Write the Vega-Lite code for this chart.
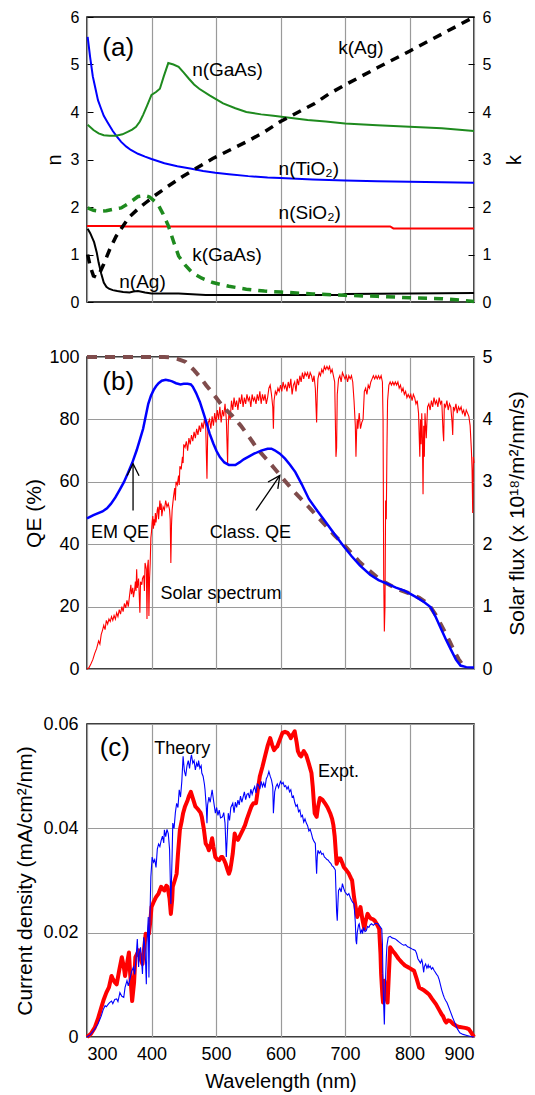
{
"$schema": "https://vega.github.io/schema/vega-lite/v6.json",
"padding": {"left": 14, "top": 8, "right": 6, "bottom": 5},
"background": "white",
"bounds": "flush",
"spacing": 55,
"config": {
  "font": "Liberation Sans",
  "view": {"stroke": "black", "strokeWidth": 1.5},
  "axis": {"labelFont": "Liberation Sans", "titleFont": "Liberation Sans", "labelColor": "black", "titleColor": "black", "titleFontWeight": "normal", "domain": false, "ticks": false, "gridColor": "#9a9a9a", "gridWidth": 1.2, "gridOpacity": 1},
  "text": {"font": "Liberation Sans", "align": "left", "baseline": "alphabetic", "color": "black"}
},
"datasets": {
  "nTiO2": [{"wl":301,"v":5.58},{"wl":305,"v":5.14},{"wl":309,"v":4.75},{"wl":313,"v":4.5},{"wl":317,"v":4.25},{"wl":321,"v":4.1},{"wl":326,"v":3.92},{"wl":332,"v":3.78},{"wl":340,"v":3.6},{"wl":347,"v":3.47},{"wl":353,"v":3.37},{"wl":361,"v":3.27},{"wl":368,"v":3.2},{"wl":379,"v":3.12},{"wl":390,"v":3.06},{"wl":400,"v":3.01},{"wl":420,"v":2.92},{"wl":440,"v":2.86},{"wl":460,"v":2.81},{"wl":480,"v":2.76},{"wl":499,"v":2.72},{"wl":520,"v":2.69},{"wl":550,"v":2.65},{"wl":580,"v":2.62},{"wl":600,"v":2.61},{"wl":650,"v":2.58},{"wl":700,"v":2.56},{"wl":750,"v":2.54},{"wl":800,"v":2.53},{"wl":850,"v":2.52},{"wl":900,"v":2.51}],
  "nGaAs": [{"wl":301,"v":3.73},{"wl":310,"v":3.62},{"wl":318,"v":3.55},{"wl":326,"v":3.51},{"wl":335,"v":3.5},{"wl":345,"v":3.5},{"wl":355,"v":3.53},{"wl":363,"v":3.58},{"wl":370,"v":3.63},{"wl":376,"v":3.69},{"wl":382,"v":3.8},{"wl":387,"v":3.94},{"wl":393,"v":4.13},{"wl":400,"v":4.36},{"wl":407,"v":4.42},{"wl":413,"v":4.49},{"wl":419,"v":4.75},{"wl":426,"v":5.03},{"wl":434,"v":5.0},{"wl":442,"v":4.95},{"wl":450,"v":4.83},{"wl":458,"v":4.7},{"wl":466,"v":4.58},{"wl":474,"v":4.49},{"wl":490,"v":4.35},{"wl":511,"v":4.18},{"wl":530,"v":4.08},{"wl":547,"v":4.0},{"wl":570,"v":3.95},{"wl":589,"v":3.92},{"wl":620,"v":3.87},{"wl":642,"v":3.83},{"wl":670,"v":3.8},{"wl":700,"v":3.76},{"wl":750,"v":3.72},{"wl":800,"v":3.69},{"wl":850,"v":3.66},{"wl":900,"v":3.6}],
  "nSiO2": [{"wl":300,"v":1.6},{"wl":355,"v":1.6},{"wl":356,"v":1.59},{"wl":770,"v":1.59},{"wl":775,"v":1.55},{"wl":900,"v":1.55}],
  "nAg": [{"wl":301,"v":1.54},{"wl":305,"v":1.45},{"wl":311,"v":1.26},{"wl":315,"v":1.05},{"wl":318,"v":0.83},{"wl":322,"v":0.6},{"wl":326,"v":0.41},{"wl":330,"v":0.32},{"wl":334,"v":0.28},{"wl":340,"v":0.25},{"wl":347,"v":0.23},{"wl":356,"v":0.21},{"wl":366,"v":0.2},{"wl":372,"v":0.22},{"wl":379,"v":0.23},{"wl":390,"v":0.2},{"wl":400,"v":0.18},{"wl":442,"v":0.18},{"wl":484,"v":0.15},{"wl":600,"v":0.15},{"wl":695,"v":0.15},{"wl":700,"v":0.17},{"wl":800,"v":0.18},{"wl":900,"v":0.19}],
  "kAg": [{"wl":301,"v":1.0},{"wl":305,"v":0.75},{"wl":310,"v":0.55},{"wl":315,"v":0.52},{"wl":320,"v":0.62},{"wl":326,"v":0.8},{"wl":335,"v":1.1},{"wl":345,"v":1.38},{"wl":353,"v":1.54},{"wl":365,"v":1.78},{"wl":379,"v":1.96},{"wl":392,"v":2.1},{"wl":405,"v":2.24},{"wl":425,"v":2.43},{"wl":447,"v":2.63},{"wl":470,"v":2.82},{"wl":495,"v":3.02},{"wl":520,"v":3.19},{"wl":547,"v":3.37},{"wl":575,"v":3.58},{"wl":600,"v":3.8},{"wl":625,"v":3.98},{"wl":653,"v":4.18},{"wl":675,"v":4.38},{"wl":700,"v":4.57},{"wl":750,"v":4.93},{"wl":800,"v":5.28},{"wl":850,"v":5.64},{"wl":900,"v":6.0}],
  "kGaAs": [{"wl":301,"v":1.98},{"wl":310,"v":1.93},{"wl":320,"v":1.91},{"wl":330,"v":1.92},{"wl":340,"v":1.95},{"wl":353,"v":1.98},{"wl":365,"v":2.08},{"wl":379,"v":2.22},{"wl":390,"v":2.24},{"wl":397,"v":2.21},{"wl":405,"v":2.12},{"wl":411,"v":2.03},{"wl":418,"v":1.85},{"wl":426,"v":1.61},{"wl":434,"v":1.28},{"wl":442,"v":0.97},{"wl":452,"v":0.78},{"wl":463,"v":0.62},{"wl":478,"v":0.5},{"wl":495,"v":0.41},{"wl":520,"v":0.33},{"wl":547,"v":0.27},{"wl":575,"v":0.23},{"wl":600,"v":0.21},{"wl":650,"v":0.17},{"wl":700,"v":0.14},{"wl":750,"v":0.12},{"wl":800,"v":0.09},{"wl":850,"v":0.07},{"wl":880,"v":0.04},{"wl":900,"v":0.01}],
  "emqe": [{"wl":300,"v":48.3},{"wl":310,"v":49.3},{"wl":324,"v":50.5},{"wl":331,"v":51.5},{"wl":337,"v":52.9},{"wl":344,"v":55.0},{"wl":350,"v":57.2},{"wl":357,"v":59.8},{"wl":363,"v":62.6},{"wl":370,"v":66.0},{"wl":377,"v":70.1},{"wl":382,"v":73.5},{"wl":387,"v":77.0},{"wl":391,"v":81.0},{"wl":395,"v":85.0},{"wl":399,"v":87.5},{"wl":403,"v":89.3},{"wl":407,"v":90.6},{"wl":411,"v":91.6},{"wl":416,"v":92.4},{"wl":422,"v":92.7},{"wl":427,"v":92.5},{"wl":432,"v":92.2},{"wl":438,"v":91.6},{"wl":445,"v":91.2},{"wl":450,"v":91.4},{"wl":456,"v":91.4},{"wl":461,"v":91.2},{"wl":464,"v":90.5},{"wl":469,"v":88.5},{"wl":475,"v":85.6},{"wl":480,"v":82.4},{"wl":485,"v":79.1},{"wl":490,"v":75.5},{"wl":496,"v":72.2},{"wl":501,"v":69.8},{"wl":506,"v":67.9},{"wl":513,"v":66.2},{"wl":520,"v":65.4},{"wl":530,"v":65.4},{"wl":537,"v":66.3},{"wl":543,"v":67.2},{"wl":550,"v":68.0},{"wl":559,"v":69.0},{"wl":570,"v":70.0},{"wl":580,"v":70.6},{"wl":586,"v":70.6},{"wl":591,"v":70.1},{"wl":599,"v":69.0},{"wl":607,"v":67.4},{"wl":615,"v":65.4},{"wl":623,"v":63.1},{"wl":633,"v":59.2},{"wl":644,"v":54.5},{"wl":657,"v":50.7},{"wl":670,"v":47.1},{"wl":683,"v":43.4},{"wl":697,"v":39.6},{"wl":710,"v":36.2},{"wl":723,"v":33.2},{"wl":739,"v":30.2},{"wl":752,"v":28.5},{"wl":766,"v":27.3},{"wl":779,"v":26.1},{"wl":792,"v":25.1},{"wl":802,"v":24.0},{"wl":813,"v":22.7},{"wl":823,"v":21.4},{"wl":833,"v":19.8},{"wl":841,"v":16.5},{"wl":849,"v":12.8},{"wl":857,"v":9.2},{"wl":865,"v":5.9},{"wl":872,"v":3.0},{"wl":879,"v":1.1},{"wl":888,"v":0.6},{"wl":900,"v":0.5}],
  "classqe": [{"wl":300,"v":100},{"wl":420,"v":100},{"wl":430,"v":99.9},{"wl":440,"v":99.4},{"wl":453,"v":98.4},{"wl":465,"v":96.0},{"wl":475,"v":93.6},{"wl":485,"v":90.9},{"wl":498,"v":87.6},{"wl":511,"v":84.0},{"wl":525,"v":81.2},{"wl":538,"v":78.1},{"wl":551,"v":74.5},{"wl":564,"v":70.6},{"wl":578,"v":67.3},{"wl":591,"v":64.2},{"wl":604,"v":61.0},{"wl":617,"v":57.8},{"wl":630,"v":54.9},{"wl":644,"v":51.9},{"wl":657,"v":48.9},{"wl":670,"v":46.0},{"wl":683,"v":43.0},{"wl":697,"v":40.1},{"wl":710,"v":37.1},{"wl":723,"v":34.2},{"wl":737,"v":31.7},{"wl":750,"v":29.4},{"wl":763,"v":27.6},{"wl":776,"v":26.2},{"wl":789,"v":25.0},{"wl":802,"v":24.1},{"wl":815,"v":22.8},{"wl":829,"v":20.9},{"wl":840,"v":17.5},{"wl":848,"v":14.5},{"wl":855,"v":11.8},{"wl":862,"v":8.9},{"wl":870,"v":5.5},{"wl":876,"v":3.2},{"wl":882,"v":1.4},{"wl":887,"v":0.5}],
  "solar": [{"wl":300,"v":0},{"wl":303,"v":0.02},{"wl":306,"v":0.08},{"wl":309,"v":0.15},{"wl":312,"v":0.25},{"wl":315,"v":0.33},{"wl":318,"v":0.45},{"wl":320,"v":0.4},{"wl":322,"v":0.55},{"wl":324,"v":0.62},{"wl":326,"v":0.7},{"wl":328,"v":0.63},{"wl":330,"v":0.78},{"wl":332,"v":0.72},{"wl":334,"v":0.8},{"wl":336,"v":0.76},{"wl":338,"v":0.84},{"wl":340,"v":0.78},{"wl":342,"v":0.86},{"wl":344,"v":0.8},{"wl":346,"v":0.9},{"wl":348,"v":0.84},{"wl":350,"v":0.95},{"wl":352,"v":0.88},{"wl":354,"v":1.0},{"wl":356,"v":0.92},{"wl":358,"v":1.05},{"wl":360,"v":0.98},{"wl":362,"v":1.1},{"wl":364,"v":1.0},{"wl":366,"v":1.18},{"wl":368,"v":1.35},{"wl":369,"v":1.2},{"wl":371,"v":1.3},{"wl":372,"v":1.15},{"wl":374,"v":1.28},{"wl":375,"v":1.4},{"wl":376,"v":1.25},{"wl":377,"v":1.6},{"wl":378,"v":1.3},{"wl":380,"v":1.45},{"wl":382,"v":0.9},{"wl":383,"v":1.4},{"wl":385,"v":1.35},{"wl":386,"v":1.45},{"wl":388,"v":1.5},{"wl":389,"v":1.25},{"wl":390,"v":1.7},{"wl":392,"v":1.6},{"wl":393,"v":0.8},{"wl":394,"v":1.65},{"wl":395,"v":1.75},{"wl":396,"v":0.85},{"wl":397,"v":1.45},{"wl":398,"v":1.7},{"wl":399,"v":2.1},{"wl":400,"v":2.2},{"wl":401,"v":2.35},{"wl":402,"v":2.45},{"wl":403,"v":2.25},{"wl":404,"v":2.4},{"wl":405,"v":2.3},{"wl":406,"v":2.5},{"wl":407,"v":2.35},{"wl":408,"v":2.45},{"wl":409,"v":2.55},{"wl":410,"v":2.6},{"wl":411,"v":2.4},{"wl":412,"v":2.55},{"wl":413,"v":2.7},{"wl":414,"v":2.55},{"wl":415,"v":2.65},{"wl":416,"v":2.45},{"wl":418,"v":2.6},{"wl":420,"v":2.55},{"wl":422,"v":2.7},{"wl":424,"v":2.6},{"wl":426,"v":2.65},{"wl":428,"v":2.55},{"wl":429,"v":2.4},{"wl":430,"v":1.7},{"wl":431,"v":2.3},{"wl":432,"v":2.55},{"wl":434,"v":2.75},{"wl":436,"v":2.9},{"wl":437,"v":2.7},{"wl":438,"v":3.0},{"wl":440,"v":2.95},{"wl":442,"v":3.1},{"wl":443,"v":2.95},{"wl":444,"v":3.25},{"wl":446,"v":3.2},{"wl":448,"v":3.4},{"wl":449,"v":3.3},{"wl":450,"v":3.6},{"wl":452,"v":3.55},{"wl":454,"v":3.65},{"wl":456,"v":3.5},{"wl":458,"v":3.7},{"wl":460,"v":3.6},{"wl":462,"v":3.75},{"wl":464,"v":3.65},{"wl":466,"v":3.8},{"wl":468,"v":3.7},{"wl":470,"v":3.85},{"wl":472,"v":3.75},{"wl":474,"v":3.9},{"wl":476,"v":3.8},{"wl":478,"v":3.95},{"wl":480,"v":3.85},{"wl":482,"v":4.0},{"wl":484,"v":3.9},{"wl":486,"v":3.05},{"wl":487,"v":3.7},{"wl":488,"v":3.95},{"wl":490,"v":4.0},{"wl":492,"v":3.85},{"wl":494,"v":4.05},{"wl":496,"v":3.9},{"wl":498,"v":4.1},{"wl":500,"v":3.95},{"wl":502,"v":4.15},{"wl":504,"v":4.0},{"wl":506,"v":4.2},{"wl":508,"v":3.95},{"wl":510,"v":4.15},{"wl":512,"v":4.05},{"wl":514,"v":4.25},{"wl":516,"v":4.0},{"wl":518,"v":3.3},{"wl":519,"v":3.9},{"wl":520,"v":4.1},{"wl":522,"v":4.0},{"wl":524,"v":4.3},{"wl":526,"v":4.15},{"wl":528,"v":4.35},{"wl":530,"v":4.2},{"wl":532,"v":4.3},{"wl":534,"v":4.15},{"wl":536,"v":4.35},{"wl":538,"v":4.25},{"wl":540,"v":4.4},{"wl":542,"v":4.2},{"wl":544,"v":4.35},{"wl":546,"v":4.25},{"wl":548,"v":4.4},{"wl":550,"v":4.3},{"wl":552,"v":4.35},{"wl":554,"v":4.2},{"wl":556,"v":4.4},{"wl":558,"v":4.3},{"wl":560,"v":4.35},{"wl":562,"v":4.25},{"wl":564,"v":4.4},{"wl":566,"v":4.3},{"wl":568,"v":4.45},{"wl":570,"v":4.25},{"wl":572,"v":4.4},{"wl":574,"v":4.3},{"wl":576,"v":4.4},{"wl":578,"v":4.25},{"wl":580,"v":4.35},{"wl":582,"v":4.5},{"wl":584,"v":4.55},{"wl":586,"v":4.4},{"wl":588,"v":4.2},{"wl":589,"v":3.85},{"wl":590,"v":4.3},{"wl":592,"v":4.45},{"wl":594,"v":4.4},{"wl":596,"v":4.5},{"wl":598,"v":4.45},{"wl":600,"v":4.55},{"wl":602,"v":4.45},{"wl":604,"v":4.6},{"wl":606,"v":4.5},{"wl":608,"v":4.55},{"wl":610,"v":4.45},{"wl":612,"v":4.6},{"wl":614,"v":4.5},{"wl":616,"v":4.65},{"wl":618,"v":4.4},{"wl":620,"v":4.55},{"wl":622,"v":4.6},{"wl":624,"v":4.45},{"wl":626,"v":4.65},{"wl":628,"v":4.55},{"wl":630,"v":4.7},{"wl":632,"v":4.6},{"wl":634,"v":4.75},{"wl":636,"v":4.65},{"wl":638,"v":4.75},{"wl":640,"v":4.7},{"wl":642,"v":4.75},{"wl":644,"v":4.65},{"wl":646,"v":4.75},{"wl":648,"v":4.7},{"wl":650,"v":4.6},{"wl":652,"v":4.7},{"wl":654,"v":4.5},{"wl":656,"v":3.95},{"wl":657,"v":4.4},{"wl":658,"v":4.65},{"wl":660,"v":4.75},{"wl":662,"v":4.7},{"wl":664,"v":4.8},{"wl":666,"v":4.75},{"wl":668,"v":4.85},{"wl":670,"v":4.8},{"wl":672,"v":4.85},{"wl":674,"v":4.8},{"wl":676,"v":4.85},{"wl":678,"v":4.75},{"wl":680,"v":4.8},{"wl":682,"v":4.7},{"wl":684,"v":4.6},{"wl":686,"v":3.4},{"wl":687,"v":3.55},{"wl":688,"v":4.4},{"wl":690,"v":4.65},{"wl":692,"v":4.7},{"wl":694,"v":4.6},{"wl":696,"v":4.75},{"wl":698,"v":4.7},{"wl":700,"v":4.65},{"wl":702,"v":4.7},{"wl":704,"v":4.6},{"wl":706,"v":4.7},{"wl":708,"v":4.65},{"wl":710,"v":4.7},{"wl":712,"v":4.6},{"wl":714,"v":4.3},{"wl":716,"v":3.9},{"wl":717,"v":3.4},{"wl":718,"v":3.8},{"wl":719,"v":4.0},{"wl":720,"v":3.85},{"wl":722,"v":4.1},{"wl":724,"v":3.85},{"wl":726,"v":3.95},{"wl":728,"v":4.0},{"wl":730,"v":4.45},{"wl":732,"v":4.5},{"wl":734,"v":4.4},{"wl":736,"v":4.55},{"wl":738,"v":4.5},{"wl":740,"v":4.6},{"wl":742,"v":4.65},{"wl":744,"v":4.7},{"wl":746,"v":4.65},{"wl":748,"v":4.7},{"wl":750,"v":4.65},{"wl":752,"v":4.7},{"wl":754,"v":4.65},{"wl":756,"v":4.7},{"wl":758,"v":4.6},{"wl":759,"v":4.0},{"wl":760,"v":1.5},{"wl":761,"v":0.6},{"wl":762,"v":1.0},{"wl":763,"v":2.7},{"wl":764,"v":2.4},{"wl":765,"v":3.5},{"wl":766,"v":4.3},{"wl":768,"v":4.55},{"wl":770,"v":4.6},{"wl":772,"v":4.55},{"wl":774,"v":4.6},{"wl":776,"v":4.55},{"wl":778,"v":4.6},{"wl":780,"v":4.55},{"wl":782,"v":4.6},{"wl":784,"v":4.5},{"wl":786,"v":4.55},{"wl":788,"v":4.45},{"wl":790,"v":4.5},{"wl":792,"v":4.4},{"wl":794,"v":4.45},{"wl":796,"v":4.35},{"wl":798,"v":4.4},{"wl":800,"v":4.35},{"wl":802,"v":4.4},{"wl":804,"v":4.3},{"wl":806,"v":4.4},{"wl":808,"v":4.35},{"wl":810,"v":4.25},{"wl":812,"v":4.3},{"wl":814,"v":4.1},{"wl":816,"v":3.4},{"wl":817,"v":4.0},{"wl":818,"v":3.6},{"wl":819,"v":4.1},{"wl":820,"v":3.7},{"wl":821,"v":2.8},{"wl":822,"v":3.9},{"wl":823,"v":3.4},{"wl":824,"v":4.1},{"wl":826,"v":3.7},{"wl":828,"v":4.2},{"wl":830,"v":4.25},{"wl":832,"v":4.15},{"wl":834,"v":4.3},{"wl":836,"v":4.2},{"wl":838,"v":4.35},{"wl":840,"v":4.25},{"wl":842,"v":4.3},{"wl":844,"v":4.2},{"wl":846,"v":4.35},{"wl":848,"v":4.25},{"wl":850,"v":4.3},{"wl":852,"v":3.8},{"wl":853,"v":3.65},{"wl":854,"v":4.25},{"wl":856,"v":4.2},{"wl":858,"v":4.3},{"wl":860,"v":4.15},{"wl":862,"v":4.25},{"wl":864,"v":4.2},{"wl":866,"v":3.95},{"wl":867,"v":3.75},{"wl":868,"v":4.2},{"wl":870,"v":4.15},{"wl":872,"v":4.25},{"wl":874,"v":4.1},{"wl":876,"v":4.2},{"wl":878,"v":4.15},{"wl":880,"v":4.2},{"wl":882,"v":4.1},{"wl":884,"v":4.15},{"wl":886,"v":4.05},{"wl":888,"v":4.15},{"wl":890,"v":4.1},{"wl":892,"v":4.05},{"wl":894,"v":3.9},{"wl":896,"v":3.5},{"wl":897,"v":3.2},{"wl":898,"v":2.5},{"wl":899,"v":3.4},{"wl":900,"v":3.3}],
  "theory": [{"wl":300,"v":0},{"wl":305,"v":0.0004},{"wl":312,"v":0.0015},{"wl":317,"v":0.0025},{"wl":322,"v":0.004},{"wl":325,"v":0.0052},{"wl":328,"v":0.006},{"wl":330,"v":0.0058},{"wl":333,"v":0.0063},{"wl":335,"v":0.0066},{"wl":338,"v":0.0069},{"wl":340,"v":0.0064},{"wl":343,"v":0.0072},{"wl":346,"v":0.0073},{"wl":348,"v":0.0068},{"wl":351,"v":0.0085},{"wl":354,"v":0.0078},{"wl":357,"v":0.0076},{"wl":359,"v":0.0095},{"wl":362,"v":0.0108},{"wl":364,"v":0.0098},{"wl":367,"v":0.0114},{"wl":369,"v":0.0125},{"wl":372,"v":0.0134},{"wl":374,"v":0.012},{"wl":376,"v":0.015},{"wl":378,"v":0.0188},{"wl":380,"v":0.0134},{"wl":381,"v":0.016},{"wl":383,"v":0.0172},{"wl":385,"v":0.014},{"wl":386,"v":0.0121},{"wl":388,"v":0.0191},{"wl":390,"v":0.017},{"wl":392,"v":0.0101},{"wl":393,"v":0.018},{"wl":395,"v":0.023},{"wl":396,"v":0.0114},{"wl":397,"v":0.02},{"wl":399,"v":0.0307},{"wl":401,"v":0.0345},{"wl":403,"v":0.0335},{"wl":405,"v":0.034},{"wl":407,"v":0.0325},{"wl":409,"v":0.036},{"wl":411,"v":0.037},{"wl":413,"v":0.0365},{"wl":415,"v":0.0377},{"wl":417,"v":0.0385},{"wl":419,"v":0.0372},{"wl":420,"v":0.0397},{"wl":422,"v":0.0384},{"wl":424,"v":0.0398},{"wl":426,"v":0.039},{"wl":428,"v":0.036},{"wl":430,"v":0.0255},{"wl":432,"v":0.035},{"wl":433,"v":0.041},{"wl":435,"v":0.04},{"wl":437,"v":0.043},{"wl":439,"v":0.0448},{"wl":441,"v":0.044},{"wl":443,"v":0.0474},{"wl":445,"v":0.046},{"wl":447,"v":0.049},{"wl":449,"v":0.0538},{"wl":451,"v":0.051},{"wl":453,"v":0.05},{"wl":455,"v":0.052},{"wl":457,"v":0.053},{"wl":459,"v":0.0515},{"wl":461,"v":0.0535},{"wl":462,"v":0.0541},{"wl":464,"v":0.0525},{"wl":466,"v":0.053},{"wl":468,"v":0.0512},{"wl":470,"v":0.0525},{"wl":472,"v":0.0518},{"wl":473,"v":0.053},{"wl":475,"v":0.0515},{"wl":477,"v":0.052},{"wl":478,"v":0.0506},{"wl":480,"v":0.05},{"wl":482,"v":0.0485},{"wl":483,"v":0.0474},{"wl":485,"v":0.044},{"wl":486,"v":0.041},{"wl":487,"v":0.0445},{"wl":489,"v":0.046},{"wl":491,"v":0.045},{"wl":494,"v":0.0474},{"wl":496,"v":0.0455},{"wl":499,"v":0.0429},{"wl":501,"v":0.044},{"wl":503,"v":0.0425},{"wl":505,"v":0.0435},{"wl":507,"v":0.042},{"wl":510,"v":0.0422},{"wl":512,"v":0.043},{"wl":514,"v":0.041},{"wl":516,"v":0.0345},{"wl":518,"v":0.04},{"wl":519,"v":0.0429},{"wl":521,"v":0.0415},{"wl":523,"v":0.044},{"wl":526,"v":0.0448},{"wl":528,"v":0.043},{"wl":530,"v":0.045},{"wl":532,"v":0.044},{"wl":534,"v":0.0454},{"wl":536,"v":0.0445},{"wl":538,"v":0.0462},{"wl":540,"v":0.045},{"wl":542,"v":0.046},{"wl":544,"v":0.047},{"wl":546,"v":0.0455},{"wl":548,"v":0.0465},{"wl":550,"v":0.0467},{"wl":552,"v":0.0458},{"wl":554,"v":0.0475},{"wl":556,"v":0.0465},{"wl":558,"v":0.0474},{"wl":560,"v":0.048},{"wl":562,"v":0.0468},{"wl":564,"v":0.0485},{"wl":566,"v":0.0483},{"wl":568,"v":0.0475},{"wl":570,"v":0.049},{"wl":572,"v":0.048},{"wl":574,"v":0.0487},{"wl":576,"v":0.0478},{"wl":578,"v":0.0495},{"wl":580,"v":0.05},{"wl":582,"v":0.0509},{"wl":584,"v":0.05},{"wl":586,"v":0.0493},{"wl":588,"v":0.048},{"wl":589,"v":0.0429},{"wl":591,"v":0.047},{"wl":593,"v":0.048},{"wl":595,"v":0.0485},{"wl":597,"v":0.0478},{"wl":600,"v":0.049},{"wl":602,"v":0.0485},{"wl":604,"v":0.0488},{"wl":606,"v":0.048},{"wl":608,"v":0.0482},{"wl":610,"v":0.0475},{"wl":612,"v":0.048},{"wl":614,"v":0.047},{"wl":616,"v":0.0474},{"wl":618,"v":0.046},{"wl":620,"v":0.0462},{"wl":622,"v":0.045},{"wl":624,"v":0.0442},{"wl":626,"v":0.0445},{"wl":628,"v":0.0432},{"wl":630,"v":0.0435},{"wl":632,"v":0.0422},{"wl":634,"v":0.0425},{"wl":636,"v":0.0412},{"wl":638,"v":0.0418},{"wl":640,"v":0.041},{"wl":642,"v":0.0405},{"wl":644,"v":0.0395},{"wl":646,"v":0.0398},{"wl":648,"v":0.039},{"wl":650,"v":0.038},{"wl":652,"v":0.0375},{"wl":654,"v":0.0371},{"wl":655,"v":0.034},{"wl":656,"v":0.0313},{"wl":657,"v":0.0345},{"wl":658,"v":0.0358},{"wl":660,"v":0.0352},{"wl":662,"v":0.0356},{"wl":664,"v":0.035},{"wl":666,"v":0.0352},{"wl":668,"v":0.0345},{"wl":670,"v":0.0343},{"wl":672,"v":0.034},{"wl":674,"v":0.0339},{"wl":676,"v":0.0335},{"wl":678,"v":0.0333},{"wl":680,"v":0.0328},{"wl":682,"v":0.0326},{"wl":684,"v":0.0322},{"wl":685,"v":0.032},{"wl":686,"v":0.028},{"wl":687,"v":0.024},{"wl":688,"v":0.0223},{"wl":689,"v":0.0255},{"wl":690,"v":0.0281},{"wl":692,"v":0.0285},{"wl":694,"v":0.0278},{"wl":696,"v":0.0294},{"wl":698,"v":0.0285},{"wl":700,"v":0.0278},{"wl":702,"v":0.0275},{"wl":704,"v":0.0272},{"wl":706,"v":0.0275},{"wl":708,"v":0.0268},{"wl":710,"v":0.0262},{"wl":712,"v":0.0258},{"wl":714,"v":0.0255},{"wl":716,"v":0.022},{"wl":717,"v":0.0185},{"wl":718,"v":0.0178},{"wl":719,"v":0.02},{"wl":721,"v":0.0215},{"wl":722,"v":0.0217},{"wl":724,"v":0.02},{"wl":726,"v":0.0205},{"wl":727,"v":0.0198},{"wl":729,"v":0.021},{"wl":731,"v":0.0202},{"wl":733,"v":0.0204},{"wl":735,"v":0.0212},{"wl":737,"v":0.021},{"wl":739,"v":0.0215},{"wl":741,"v":0.0217},{"wl":744,"v":0.0214},{"wl":747,"v":0.0218},{"wl":751,"v":0.0217},{"wl":754,"v":0.0212},{"wl":757,"v":0.0207},{"wl":758,"v":0.018},{"wl":759,"v":0.0101},{"wl":760,"v":0.006},{"wl":761,"v":0.0024},{"wl":762,"v":0.008},{"wl":763,"v":0.0114},{"wl":764,"v":0.015},{"wl":765,"v":0.0175},{"wl":767,"v":0.0191},{"wl":770,"v":0.0193},{"wl":773,"v":0.019},{"wl":776,"v":0.0189},{"wl":778,"v":0.0188},{"wl":781,"v":0.0185},{"wl":784,"v":0.0182},{"wl":786,"v":0.018},{"wl":788,"v":0.0178},{"wl":791,"v":0.0176},{"wl":794,"v":0.0177},{"wl":797,"v":0.0173},{"wl":799,"v":0.0172},{"wl":802,"v":0.017},{"wl":805,"v":0.0168},{"wl":807,"v":0.0167},{"wl":809,"v":0.0166},{"wl":811,"v":0.016},{"wl":813,"v":0.015},{"wl":815,"v":0.0146},{"wl":817,"v":0.0142},{"wl":819,"v":0.0148},{"wl":820,"v":0.0143},{"wl":822,"v":0.0124},{"wl":823,"v":0.0135},{"wl":825,"v":0.014},{"wl":827,"v":0.0132},{"wl":829,"v":0.0138},{"wl":830,"v":0.0133},{"wl":832,"v":0.0136},{"wl":834,"v":0.013},{"wl":836,"v":0.0133},{"wl":838,"v":0.0128},{"wl":840,"v":0.0124},{"wl":842,"v":0.012},{"wl":844,"v":0.0117},{"wl":846,"v":0.011},{"wl":848,"v":0.01},{"wl":850,"v":0.009},{"wl":852,"v":0.0082},{"wl":854,"v":0.0075},{"wl":856,"v":0.007},{"wl":858,"v":0.0066},{"wl":860,"v":0.006},{"wl":863,"v":0.005},{"wl":867,"v":0.0037},{"wl":870,"v":0.0028},{"wl":874,"v":0.0016},{"wl":878,"v":0.0008},{"wl":883,"v":0.0005},{"wl":889,"v":0.0003},{"wl":895,"v":0.0001},{"wl":900,"v":0}],
  "expt": [{"wl":300,"v":0},{"wl":306,"v":0.0006},{"wl":312,"v":0.0018},{"wl":317,"v":0.0035},{"wl":322,"v":0.0056},{"wl":326,"v":0.0072},{"wl":330,"v":0.0085},{"wl":334,"v":0.0095},{"wl":338,"v":0.0117},{"wl":340,"v":0.0112},{"wl":343,"v":0.0105},{"wl":346,"v":0.0101},{"wl":350,"v":0.0128},{"wl":354,"v":0.0153},{"wl":357,"v":0.0135},{"wl":359,"v":0.0117},{"wl":362,"v":0.014},{"wl":365,"v":0.0162},{"wl":367,"v":0.012},{"wl":370,"v":0.0069},{"wl":373,"v":0.0105},{"wl":375,"v":0.0153},{"wl":378,"v":0.016},{"wl":380,"v":0.0166},{"wl":383,"v":0.015},{"wl":386,"v":0.014},{"wl":389,"v":0.0175},{"wl":391,"v":0.0198},{"wl":393,"v":0.0195},{"wl":396,"v":0.0198},{"wl":398,"v":0.022},{"wl":400,"v":0.0249},{"wl":403,"v":0.0258},{"wl":407,"v":0.0268},{"wl":411,"v":0.0275},{"wl":415,"v":0.0288},{"wl":418,"v":0.0283},{"wl":420,"v":0.0281},{"wl":423,"v":0.029},{"wl":425,"v":0.0288},{"wl":428,"v":0.0265},{"wl":430,"v":0.0236},{"wl":432,"v":0.0262},{"wl":433,"v":0.0288},{"wl":436,"v":0.03},{"wl":439,"v":0.0313},{"wl":441,"v":0.035},{"wl":444,"v":0.0397},{"wl":447,"v":0.0415},{"wl":449,"v":0.0429},{"wl":452,"v":0.0442},{"wl":456,"v":0.0454},{"wl":458,"v":0.0462},{"wl":461,"v":0.047},{"wl":464,"v":0.0458},{"wl":468,"v":0.0442},{"wl":471,"v":0.0438},{"wl":473,"v":0.0435},{"wl":476,"v":0.043},{"wl":478,"v":0.0422},{"wl":481,"v":0.04},{"wl":484,"v":0.0371},{"wl":487,"v":0.0365},{"wl":489,"v":0.0358},{"wl":492,"v":0.037},{"wl":494,"v":0.0381},{"wl":496,"v":0.0365},{"wl":499,"v":0.0345},{"wl":502,"v":0.034},{"wl":505,"v":0.0339},{"wl":508,"v":0.0345},{"wl":510,"v":0.0345},{"wl":513,"v":0.0338},{"wl":515,"v":0.0332},{"wl":518,"v":0.032},{"wl":520,"v":0.0313},{"wl":522,"v":0.032},{"wl":524,"v":0.0335},{"wl":526,"v":0.0352},{"wl":529,"v":0.039},{"wl":531,"v":0.0382},{"wl":534,"v":0.0378},{"wl":538,"v":0.0388},{"wl":542,"v":0.0398},{"wl":545,"v":0.0406},{"wl":548,"v":0.0418},{"wl":552,"v":0.0432},{"wl":555,"v":0.0442},{"wl":558,"v":0.0448},{"wl":562,"v":0.0448},{"wl":565,"v":0.0475},{"wl":568,"v":0.05},{"wl":572,"v":0.0518},{"wl":576,"v":0.0538},{"wl":580,"v":0.0558},{"wl":584,"v":0.0573},{"wl":587,"v":0.056},{"wl":590,"v":0.055},{"wl":593,"v":0.0555},{"wl":595,"v":0.0557},{"wl":599,"v":0.057},{"wl":603,"v":0.0583},{"wl":607,"v":0.0585},{"wl":611,"v":0.0583},{"wl":614,"v":0.0578},{"wl":616,"v":0.0573},{"wl":619,"v":0.058},{"wl":622,"v":0.0586},{"wl":625,"v":0.0565},{"wl":627,"v":0.0548},{"wl":630,"v":0.054},{"wl":632,"v":0.0538},{"wl":636,"v":0.0548},{"wl":640,"v":0.054},{"wl":643,"v":0.0528},{"wl":646,"v":0.0515},{"wl":648,"v":0.0506},{"wl":650,"v":0.048},{"wl":652,"v":0.0445},{"wl":653,"v":0.0429},{"wl":656,"v":0.0422},{"wl":658,"v":0.044},{"wl":661,"v":0.0458},{"wl":665,"v":0.0455},{"wl":669,"v":0.0448},{"wl":673,"v":0.044},{"wl":677,"v":0.0429},{"wl":680,"v":0.0418},{"wl":682,"v":0.0406},{"wl":684,"v":0.0385},{"wl":686,"v":0.035},{"wl":687,"v":0.0332},{"wl":690,"v":0.0342},{"wl":693,"v":0.0342},{"wl":696,"v":0.0333},{"wl":698,"v":0.0326},{"wl":702,"v":0.032},{"wl":706,"v":0.0313},{"wl":709,"v":0.0305},{"wl":711,"v":0.03},{"wl":714,"v":0.0268},{"wl":717,"v":0.0245},{"wl":719,"v":0.023},{"wl":721,"v":0.0238},{"wl":724,"v":0.0249},{"wl":727,"v":0.0225},{"wl":730,"v":0.0207},{"wl":732,"v":0.0222},{"wl":735,"v":0.0236},{"wl":738,"v":0.023},{"wl":740,"v":0.0227},{"wl":743,"v":0.0226},{"wl":746,"v":0.0223},{"wl":750,"v":0.0215},{"wl":753,"v":0.0207},{"wl":755,"v":0.016},{"wl":756,"v":0.0121},{"wl":758,"v":0.008},{"wl":759,"v":0.0066},{"wl":760,"v":0.0095},{"wl":761,"v":0.0108},{"wl":763,"v":0.0085},{"wl":766,"v":0.0066},{"wl":768,"v":0.012},{"wl":770,"v":0.0172},{"wl":774,"v":0.0165},{"wl":778,"v":0.0159},{"wl":783,"v":0.015},{"wl":788,"v":0.0143},{"wl":793,"v":0.0137},{"wl":799,"v":0.0133},{"wl":803,"v":0.013},{"wl":807,"v":0.0127},{"wl":811,"v":0.0112},{"wl":815,"v":0.0095},{"wl":819,"v":0.0092},{"wl":823,"v":0.0089},{"wl":827,"v":0.0085},{"wl":830,"v":0.0082},{"wl":835,"v":0.0073},{"wl":841,"v":0.0063},{"wl":846,"v":0.0052},{"wl":850,"v":0.0043},{"wl":852,"v":0.004},{"wl":855,"v":0.0031},{"wl":857,"v":0.0028},{"wl":860,"v":0.0032},{"wl":863,"v":0.0031},{"wl":868,"v":0.0025},{"wl":873,"v":0.0021},{"wl":878,"v":0.0019},{"wl":884,"v":0.0018},{"wl":888,"v":0.0017},{"wl":892,"v":0.0015},{"wl":896,"v":0.0008},{"wl":900,"v":0}],
  "labelsA": [{"wl":463,"v":4.75,"t":"n(GaAs)"},{"wl":689.5,"v":5.22,"t":"k(Ag)"},{"wl":597,"v":2.67,"t":"n(TiO₂)"},{"wl":597,"v":1.75,"t":"n(SiO₂)"},{"wl":463,"v":0.87,"t":"k(GaAs)"},{"wl":350,"v":0.3,"t":"n(Ag)"}],
  "labelsB": [{"wl":306.3,"v":41.9,"t":"EM QE"},{"wl":490.5,"v":41.9,"t":"Class. QE"},{"wl":413.8,"v":22.5,"t":"Solar spectrum"}],
  "labelsC": [{"wl":404.2,"v":0.0543,"t":"Theory"},{"wl":658.2,"v":0.0498,"t":"Expt."}],
  "arrows": [{"name":"em","wl":371.4,"v":65.8,"wl2":371.4,"v2":50.8},{"name":"class","wl":598.9,"v":62.0,"wl2":561.9,"v2":50.8}]
},
"vconcat": [
  {
    "width": 387, "height": 285,
    "encoding": {"x": {"field": "wl", "type": "quantitative", "scale": {"domain": [300, 900], "nice": false, "zero": false}, "axis": {"values": [300,400,500,600,700,800,900], "labels": false, "title": null, "grid": true, "ticks": false}}},
    "layer": [
      {
        "encoding": {"y": {"field": "v", "type": "quantitative", "scale": {"domain": [0, 6], "nice": false}, "axis": {"orient": "left", "title": "n", "values": [0,1,2,3,4,5,6], "grid": false, "ticks": true, "tickSize": -6, "tickColor": "black", "labelFontSize": 16, "titleFontSize": 20, "labelPadding": 14, "titlePadding": 6}}},
        "layer": [
          {"data": {"name": "nSiO2"}, "mark": {"type": "line", "color": "#ff0000", "strokeWidth": 2}},
          {"data": {"name": "nTiO2"}, "mark": {"type": "line", "color": "#0000ff", "strokeWidth": 2}},
          {"data": {"name": "nGaAs"}, "mark": {"type": "line", "color": "#1e8a1e", "strokeWidth": 2}},
          {"data": {"name": "nAg"}, "mark": {"type": "line", "color": "#000000", "strokeWidth": 2}},
          {"data": {"name": "labelsA"}, "mark": {"type": "text", "fontSize": 19}, "encoding": {"text": {"field": "t"}}},
          {"data": {"values": [{"wl": 323.7, "v": 5.17, "t": "(a)"}]}, "mark": {"type": "text", "fontSize": 26}, "encoding": {"text": {"field": "t"}}}
        ]
      },
      {
        "encoding": {"y": {"field": "v", "type": "quantitative", "scale": {"domain": [0, 6], "nice": false}, "axis": {"orient": "right", "title": "k", "values": [0,1,2,3,4,5,6], "grid": false, "ticks": true, "tickSize": -6, "tickColor": "black", "labelFontSize": 16, "titleFontSize": 20, "labelPadding": 14, "titlePadding": 14, "titleAngle": 270, "titleBaseline": "top"}}},
        "layer": [
          {"data": {"name": "kGaAs"}, "mark": {"type": "line", "color": "#1e8a1e", "strokeWidth": 3.5, "strokeDash": [9, 7]}},
          {"data": {"name": "kAg"}, "mark": {"type": "line", "color": "#000000", "strokeWidth": 3.5, "strokeDash": [9, 7]}}
        ]
      }
    ],
    "resolve": {"scale": {"y": "independent"}}
  },
  {
    "width": 387, "height": 312,
    "encoding": {"x": {"field": "wl", "type": "quantitative", "scale": {"domain": [300, 900], "nice": false, "zero": false}, "axis": {"values": [300,400,500,600,700,800,900], "labels": false, "title": null, "grid": true, "ticks": false}}},
    "layer": [
      {
        "encoding": {"y": {"field": "v", "type": "quantitative", "scale": {"domain": [0, 5], "nice": false}, "axis": {"orient": "right", "title": "Solar flux (x 10¹⁸/m²/nm/s)", "values": [0,1,2,3,4,5], "grid": false, "labelFontSize": 18, "titleFontSize": 21, "labelPadding": 8, "titlePadding": 14, "titleAngle": 270, "titleBaseline": "top"}}},
        "layer": [
          {"data": {"name": "solar"}, "mark": {"type": "line", "color": "#ff0000", "strokeWidth": 1.1}}
        ]
      },
      {
        "encoding": {"y": {"field": "v", "type": "quantitative", "scale": {"domain": [0, 100], "nice": false}, "axis": {"orient": "left", "title": "QE (%)", "values": [0,20,40,60,80,100], "grid": true, "labelFontSize": 18, "titleFontSize": 21, "labelPadding": 8, "titlePadding": 4}}},
        "layer": [
          {"data": {"name": "classqe"}, "mark": {"type": "line", "color": "#7f4c4c", "strokeWidth": 4, "strokeDash": [10, 8]}},
          {"data": {"name": "emqe"}, "mark": {"type": "line", "color": "#0000ff", "strokeWidth": 2.5}},
          {"data": {"name": "arrows"}, "mark": {"type": "rule", "color": "black", "strokeWidth": 1.3}, "encoding": {"x2": {"field": "wl2"}, "y2": {"field": "v2"}}},
          {"data": {"name": "arrows"}, "transform": [{"filter": "datum.name == 'em'"}], "mark": {"type": "point", "shape": "M-1,2L0,0L1,2", "size": 144, "filled": false, "color": "black", "strokeWidth": 1.3, "opacity": 1, "angle": 0}},
          {"data": {"name": "arrows"}, "transform": [{"filter": "datum.name == 'class'"}], "mark": {"type": "point", "shape": "M-1,2L0,0L1,2", "size": 144, "filled": false, "color": "black", "strokeWidth": 1.3, "opacity": 1, "angle": 35}},
          {"data": {"name": "labelsB"}, "mark": {"type": "text", "fontSize": 18}, "encoding": {"text": {"field": "t"}}},
          {"data": {"values": [{"wl": 323.8, "v": 89.3, "t": "(b)"}]}, "mark": {"type": "text", "fontSize": 26}, "encoding": {"text": {"field": "t"}}}
        ]
      }
    ],
    "resolve": {"scale": {"y": "independent"}}
  },
  {
    "width": 387, "height": 313,
    "encoding": {
      "x": {"field": "wl", "type": "quantitative", "scale": {"domain": [300, 900], "nice": false, "zero": false}, "axis": {"values": [300,400,500,600,700,800,900], "title": "Wavelength (nm)", "grid": true, "ticks": false, "labelFontSize": 18, "titleFontSize": 20, "labelPadding": 8, "titlePadding": 8}},
      "y": {"field": "v", "type": "quantitative", "scale": {"domain": [0, 0.06], "nice": false}, "axis": {"title": "Current density (mA/cm²/nm)", "values": [0, 0.02, 0.04, 0.06], "format": "~g", "grid": true, "labelFontSize": 18, "titleFontSize": 21, "labelPadding": 9, "titlePadding": 7}}
    },
    "layer": [
      {"data": {"name": "expt"}, "mark": {"type": "line", "color": "#ff0000", "strokeWidth": 4, "strokeJoin": "round"}},
      {"data": {"name": "theory"}, "mark": {"type": "line", "color": "#0000ff", "strokeWidth": 1.1}},
      {"data": {"name": "labelsC"}, "mark": {"type": "text", "fontSize": 18}, "encoding": {"text": {"field": "t"}}},
      {"data": {"values": [{"wl": 319.6, "v": 0.0538, "t": "(c)"}]}, "mark": {"type": "text", "fontSize": 26}, "encoding": {"text": {"field": "t"}}}
    ]
  }
]
}
